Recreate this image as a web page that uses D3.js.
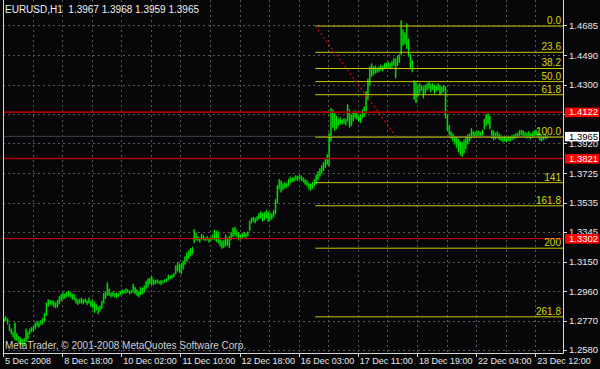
<!DOCTYPE html>
<html><head><meta charset="utf-8">
<script src="https://cdn.jsdelivr.net/npm/d3@7"></script>
<style>html,body{margin:0;padding:0;background:#07070a;}svg{display:block;}</style>
</head><body>
<script>
// ---- data ----
const title = "EURUSD,H1";
const titleQuote = ["1.3967","1.3968","1.3959","1.3965"];
const copyright = "MetaTrader, \u00a9 2001-2008 MetaQuotes Software Corp.";

const highs = [
1.2790,1.2800,1.2785,1.2750,1.2720,1.2700,1.2760,1.2690,1.2670,1.2660,
1.2650,1.2660,1.2720,1.2700,1.2720,1.2730,1.2740,1.2760,1.2770,1.2760,
1.2775,1.2790,1.2820,1.2890,1.2910,1.2905,1.2905,1.2900,1.2890,1.2905,
1.2930,1.2945,1.2955,1.2950,1.2960,1.2965,1.2955,1.2945,1.2945,1.2920,
1.2910,1.2915,1.2920,1.2910,1.2915,1.2905,1.2920,1.2900,1.2910,1.2890,
1.2880,1.2860,1.2870,1.2900,1.2950,1.2960,1.3020,1.2980,1.2955,1.2960,
1.2950,1.2955,1.2950,1.2965,1.2975,1.2970,1.2980,1.2975,1.2965,1.2970,
1.3010,1.2990,1.2975,1.2960,1.2990,1.2985,1.3000,1.3030,1.3045,1.3050,
1.3060,1.3040,1.3035,1.3040,1.3030,1.3035,1.3030,1.3040,1.3045,1.3070,
1.3065,1.3070,1.3080,1.3130,1.3150,1.3140,1.3145,1.3160,1.3190,1.3215,
1.3230,1.3240,1.3250,1.3365,1.3340,1.3320,1.3310,1.3335,1.3325,1.3310,
1.3320,1.3305,1.3315,1.3330,1.3360,1.3355,1.3350,1.3300,1.3290,1.3295,
1.3330,1.3310,1.3320,1.3345,1.3375,1.3380,1.3360,1.3340,1.3330,1.3340,
1.3345,1.3340,1.3350,1.3420,1.3440,1.3445,1.3440,1.3450,1.3470,1.3480,
1.3470,1.3475,1.3490,1.3480,1.3470,1.3465,1.3490,1.3560,1.3650,1.3690,
1.3680,1.3660,1.3670,1.3665,1.3690,1.3705,1.3700,1.3705,1.3715,1.3710,
1.3720,1.3710,1.3700,1.3690,1.3680,1.3665,1.3660,1.3670,1.3690,1.3720,
1.3740,1.3760,1.3780,1.3800,1.3820,1.3850,1.3990,1.4150,1.4140,1.4120,
1.4100,1.4080,1.4090,1.4075,1.4085,1.4080,1.4175,1.4140,1.4110,1.4130,
1.4135,1.4120,1.4100,1.4110,1.4140,1.4160,1.4260,1.4340,1.4420,1.4440,
1.4420,1.4425,1.4410,1.4420,1.4430,1.4425,1.4440,1.4445,1.4450,1.4440,
1.4455,1.4475,1.4470,1.4490,1.4500,1.4720,1.4660,1.4640,1.4700,1.4600,
1.4500,1.4460,1.4330,1.4320,1.4300,1.4310,1.4300,1.4290,1.4300,1.4310,
1.4320,1.4305,1.4310,1.4300,1.4295,1.4310,1.4300,1.4290,1.4300,1.4290,
1.4110,1.4040,1.4000,1.3985,1.3970,1.3960,1.3950,1.3935,1.3930,1.3945,
1.3960,1.3980,1.3985,1.4020,1.4000,1.3995,1.4000,1.4005,1.3995,1.4010,
1.4080,1.4110,1.4115,1.4100,1.4010,1.4005,1.3990,1.4000,1.3985,1.3975,
1.3965,1.3970,1.3960,1.3970,1.3965,1.3975,1.3980,1.3985,1.3990,1.4005,
1.4010,1.4005,1.3995,1.3990,1.4000,1.3985,1.3995,1.4005,1.4010,1.3995,
1.3985,1.3975,1.3970,1.3980,1.3975,1.3968];

const lows = [
1.2760,1.2765,1.2745,1.2700,1.2680,1.2660,1.2640,1.2640,1.2620,1.2610,
1.2600,1.2610,1.2630,1.2650,1.2680,1.2695,1.2700,1.2715,1.2730,1.2725,
1.2740,1.2745,1.2760,1.2800,1.2860,1.2870,1.2870,1.2855,1.2850,1.2855,
1.2875,1.2895,1.2905,1.2910,1.2920,1.2925,1.2920,1.2905,1.2900,1.2880,
1.2870,1.2880,1.2880,1.2875,1.2885,1.2870,1.2880,1.2860,1.2850,1.2820,
1.2835,1.2810,1.2830,1.2845,1.2880,1.2910,1.2930,1.2930,1.2920,1.2925,
1.2920,1.2915,1.2925,1.2935,1.2940,1.2945,1.2945,1.2950,1.2940,1.2945,
1.2950,1.2940,1.2930,1.2920,1.2935,1.2940,1.2950,1.2975,1.2990,1.3005,
1.3000,1.3000,1.3005,1.3010,1.3005,1.3000,1.3010,1.3015,1.3020,1.3030,
1.3040,1.3040,1.3050,1.3070,1.3090,1.3080,1.3070,1.3100,1.3130,1.3150,
1.3170,1.3185,1.3200,1.3270,1.3290,1.3285,1.3275,1.3295,1.3290,1.3285,
1.3290,1.3275,1.3285,1.3295,1.3290,1.3280,1.3270,1.3250,1.3235,1.3240,
1.3250,1.3255,1.3240,1.3290,1.3310,1.3320,1.3310,1.3290,1.3295,1.3305,
1.3310,1.3305,1.3315,1.3350,1.3400,1.3410,1.3400,1.3415,1.3425,1.3430,
1.3410,1.3420,1.3430,1.3410,1.3420,1.3425,1.3440,1.3460,1.3530,1.3620,
1.3600,1.3615,1.3625,1.3630,1.3640,1.3660,1.3665,1.3670,1.3680,1.3675,
1.3685,1.3675,1.3665,1.3650,1.3640,1.3620,1.3610,1.3625,1.3640,1.3650,
1.3680,1.3700,1.3720,1.3740,1.3760,1.3780,1.3770,1.3930,1.4020,1.4000,
1.4010,1.4030,1.4040,1.4040,1.4045,1.4035,1.4060,1.4020,1.4030,1.4060,
1.4080,1.4070,1.4060,1.4050,1.4080,1.4090,1.4110,1.4200,1.4290,1.4350,
1.4360,1.4370,1.4375,1.4380,1.4390,1.4385,1.4400,1.4405,1.4410,1.4400,
1.4410,1.4420,1.4340,1.4420,1.4440,1.4490,1.4550,1.4560,1.4530,1.4480,
1.4400,1.4380,1.4200,1.4180,1.4220,1.4240,1.4260,1.4210,1.4240,1.4260,
1.4270,1.4250,1.4265,1.4240,1.4255,1.4260,1.4230,1.4240,1.4250,1.4080,
1.4000,1.3970,1.3950,1.3930,1.3910,1.3890,1.3860,1.3840,1.3830,1.3850,
1.3880,1.3910,1.3930,1.3950,1.3960,1.3955,1.3960,1.3965,1.3960,1.3970,
1.4010,1.4030,1.4040,1.4010,1.3950,1.3940,1.3945,1.3950,1.3940,1.3935,
1.3925,1.3930,1.3925,1.3935,1.3930,1.3940,1.3945,1.3950,1.3955,1.3965,
1.3970,1.3965,1.3960,1.3950,1.3960,1.3945,1.3955,1.3960,1.3965,1.3955,
1.3935,1.3930,1.3940,1.3945,1.3950,1.3959];

const timeTickBars = [0,32,64,96,128,160,192,224,256,288];
const timeTickLabels = ["5 Dec 2008","8 Dec 18:00","10 Dec 02:00","11 Dec 10:00","12 Dec 18:00",
  "16 Dec 03:00","17 Dec 11:00","18 Dec 19:00","22 Dec 04:00","23 Dec 12:00"];
const priceTicks = [1.4685,1.4490,1.4300,1.4110,1.3920,1.3725,1.3535,1.3345,1.3150,1.2960,1.2770,1.2580];
const priceTickLabels = ["1.4685","1.4490","1.4300","","1.3920","1.3725","1.3535","1.3345","1.3150","1.2960","1.2770","1.2580"];

const hLines = [1.4122, 1.3821, 1.3302];
const hLineLabels = ["1.4122","1.3821","1.3302"];
const bidPrice = 1.3965;
const bidLabel = "1.3965";

const fibAnchorBars = [169, 213];
const fibAnchorPrices = [1.4680, 1.3960];
const fibLevels = [0, 23.6, 38.2, 50, 61.8, 100, 141, 161.8, 200, 261.8];
const fibLabels = ["0.0","23.6","38.2","50.0","61.8","100.0","141","161.8","200","261.8"];

// ---- layout ----
const W = 600, H = 369;
const L = 3, R = 563, T = 0, B = 353;
const FONT = "'Liberation Sans Narrow','Arial Narrow','Liberation Sans',Arial,sans-serif";

const svg = d3.select("body").append("svg").attr("width", W).attr("height", H);
svg.append("rect").attr("width", W).attr("height", H).attr("fill", "#07070a");

const x = d3.scaleLinear().domain([0, 288]).range([3, 535.2]);
const y = d3.scaleLinear().domain([1.2580, 1.4685]).range([350, 25.3]);

// grid
const grid = svg.append("g").attr("stroke", "#56565a").attr("stroke-dasharray", "2,3").attr("stroke-width", 1);
const vGrid = d3.range(16, 300, 16);
grid.selectAll("line.v").data(vGrid).join("line")
  .attr("x1", d => Math.round(x(d)) + 0.5).attr("x2", d => Math.round(x(d)) + 0.5)
  .attr("y1", T).attr("y2", B);
grid.selectAll("line.h").data(priceTicks).join("line")
  .attr("x1", L).attr("x2", R)
  .attr("y1", d => Math.round(y(d)) + 0.5).attr("y2", d => Math.round(y(d)) + 0.5);

// bars
const bars = svg.append("g");
const idx = d3.range(highs.length);
bars.selectAll("line.b1").data(idx).join("line")
  .attr("x1", i => x(i) + 0.9).attr("x2", i => x(i) + 0.9)
  .attr("y1", i => y(highs[i]) + 1).attr("y2", i => y(lows[i]) - 1)
  .attr("stroke", "#008400").attr("stroke-width", 1.8);
bars.selectAll("line.b2").data(idx).join("line")
  .attr("x1", i => x(i) + 0.9).attr("x2", i => x(i) + 0.9)
  .attr("y1", i => y(highs[i])).attr("y2", i => y(lows[i]))
  .attr("stroke", "#00f000").attr("stroke-width", 0.9);

// bid line
svg.append("line").attr("x1", L).attr("x2", R)
  .attr("y1", y(bidPrice)).attr("y2", y(bidPrice))
  .attr("stroke", "#404044").attr("stroke-width", 1);

// horizontal red lines
svg.selectAll("line.hl").data(hLines).join("line")
  .attr("x1", L).attr("x2", R)
  .attr("y1", d => y(d)).attr("y2", d => y(d))
  .attr("stroke", (d, i) => i < 2 ? "#a80000" : "#dd0000")
  .attr("stroke-width", (d, i) => i < 2 ? 1.6 : 1);

// fibonacci
const fibRange = fibAnchorPrices[0] - fibAnchorPrices[1];
const fibPrice = lv => fibAnchorPrices[0] - fibRange * lv / 100;
const fg = svg.append("g");
fg.selectAll("line").data(fibLevels).join("line")
  .attr("x1", x(fibAnchorBars[0])).attr("x2", R)
  .attr("y1", d => y(fibPrice(d))).attr("y2", d => y(fibPrice(d)))
  .attr("stroke", "#c8c800").attr("stroke-width", 1);
fg.selectAll("text").data(fibLevels).join("text")
  .attr("x", R - 2).attr("y", d => y(fibPrice(d)) - 2)
  .attr("text-anchor", "end").attr("fill", "#d8d800")
  .attr("font-family", FONT).attr("font-size", 10)
  .text((d, i) => fibLabels[i]);
svg.append("line")
  .attr("x1", x(fibAnchorBars[0])).attr("y1", y(fibAnchorPrices[0]))
  .attr("x2", x(fibAnchorBars[1])).attr("y2", y(fibAnchorPrices[1]))
  .attr("stroke", "#e00000").attr("stroke-width", 1.2).attr("stroke-dasharray", "2,2.5");

// frame
svg.append("path").attr("d", `M${L + 0.5},${T}V${B + 0.5}H${R + 0.5}V${T}`)
  .attr("fill", "none").attr("stroke", "#d8d8d8").attr("stroke-width", 1);

// price axis
const pa = svg.append("g");
pa.selectAll("line").data(priceTicks).join("line")
  .attr("x1", R).attr("x2", R + 4)
  .attr("y1", d => Math.round(y(d)) + 0.5).attr("y2", d => Math.round(y(d)) + 0.5)
  .attr("stroke", "#d8d8d8");
pa.selectAll("text").data(priceTicks).join("text")
  .attr("x", R + 6).attr("y", d => y(d)).attr("dy", "0.35em")
  .attr("fill", "#e8e8e8").attr("font-family", FONT).attr("font-size", 9.5)
  .text((d, i) => priceTickLabels[i]);

// price markers
function marker(p, label, bg, fgc) {
  const g = svg.append("g");
  g.append("rect").attr("x", R + 2).attr("y", y(p) - 4.5).attr("width", 34).attr("height", 9.5).attr("fill", bg);
  g.append("text").attr("x", R + 6).attr("y", y(p)).attr("dy", "0.35em")
    .attr("fill", fgc).attr("font-family", FONT).attr("font-size", 9.5).text(label);
}
hLines.forEach((p, i) => marker(p, hLineLabels[i], "#ff0000", "#ffffff"));
marker(bidPrice, bidLabel, "#ffffff", "#000000");

// time axis
const ta = svg.append("g");
ta.selectAll("line").data(timeTickBars).join("line")
  .attr("x1", d => Math.round(x(d)) + 0.5).attr("x2", d => Math.round(x(d)) + 0.5)
  .attr("y1", B).attr("y2", B + 4).attr("stroke", "#d8d8d8");
ta.selectAll("text").data(timeTickBars).join("text")
  .attr("x", d => x(d) + 2).attr("y", 364)
  .attr("fill", "#e8e8e8").attr("font-family", FONT).attr("font-size", 9)
  .text((d, i) => timeTickLabels[i]);

// title & copyright
svg.append("text").attr("x", 5).attr("y", 13).attr("fill", "#f0f0f0")
  .attr("font-family", FONT).attr("font-size", 10).style("white-space", "pre")
  .text(title + "  " + titleQuote.join(" "));
svg.append("text").attr("x", 5).attr("y", 349).attr("fill", "#d0d0d0")
  .attr("font-family", FONT).attr("font-size", 10)
  .text(copyright);
</script>
</body></html>
